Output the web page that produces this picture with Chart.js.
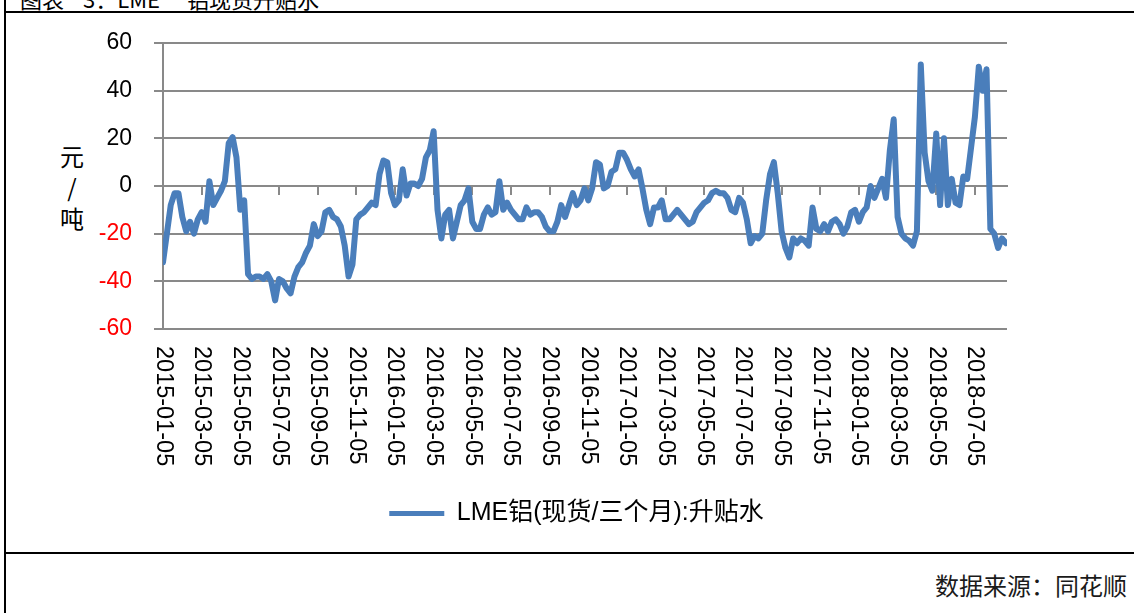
<!DOCTYPE html>
<html><head><meta charset="utf-8">
<script src="https://cdn.jsdelivr.net/npm/chart.js@4/dist/chart.umd.min.js"></script>
<style>
body{margin:0;background:#fff;width:1134px;height:613px;overflow:hidden;position:relative;font-family:"Liberation Sans","Noto Sans CJK SC",sans-serif;}
#wrap{position:absolute;left:0;top:0;width:1134px;height:551px;}
.line{position:absolute;background:#000;}
#title{position:absolute;left:20px;top:-13px;font-size:22px;line-height:22px;font-family:"Noto Sans CJK SC",sans-serif;white-space:nowrap;color:#000;}
#title span{position:absolute;top:0;white-space:nowrap;}
#ytitle{position:absolute;left:52px;width:40px;top:140px;text-align:center;font-size:24px;line-height:31px;font-family:"Noto Sans CJK SC",sans-serif;color:#000;}
#source{position:absolute;right:7px;top:572px;font-size:24px;line-height:26px;font-family:"Noto Sans CJK SC",sans-serif;color:#1a1a1a;white-space:nowrap;}
</style></head>
<body>
<div id="title"><span style="left:0">图表</span><span style="left:63px">3：LME</span><span style="left:167px">铝现货升贴水</span></div>
<div id="ytitle">元<br>/<br>吨</div>
<div id="source">数据来源：同花顺</div>
<div id="wrap"><canvas id="c" width="1134" height="551"></canvas></div>
<div class="line" style="left:4px;top:0;width:2px;height:613px"></div>
<div class="line" style="left:4px;top:11px;width:1130px;height:2px"></div>
<div class="line" style="left:4px;top:552px;width:1130px;height:2px"></div>
<script>
// Tick labels on the category (time) axis, one every two months
const xTickLabels = ['2015-01-05','2015-03-05','2015-05-05','2015-07-05','2015-09-05','2015-11-05',
  '2016-01-05','2016-03-05','2016-05-05','2016-07-05','2016-09-05','2016-11-05',
  '2017-01-05','2017-03-05','2017-05-05','2017-07-05','2017-09-05','2017-11-05',
  '2018-01-05','2018-03-05','2018-05-05','2018-07-05'];
// Series: LME aluminium cash/3M spread, sampled ten times per two-month label interval
const seriesName = 'LME铝(现货/三个月):升贴水';
const spread = [
  -32,-20,-8,-3,-3,-13,-19,-15,-20,-14,
  -11,-15,2,-8,-5,-2,2,18,20.5,12,
  -10,-6,-37,-39,-38,-38,-39,-37,-40,-48,
  -39,-40,-43,-45,-38,-34,-32,-28,-25,-16,
  -21,-19,-11,-10,-13,-14,-17,-25,-38,-33,
  -14,-12,-11,-9,-7,-8,5,10.7,10,-3,
  -8,-6,7,-4,1,1,0,3,12,15,
  23,-10,-22,-12,-10,-22,-15,-8,-6,-1,
  -15,-18,-18,-12,-9,-12,-11,2,-10,-7,
  -10,-12,-14,-14,-9,-12,-11,-11,-13,-17,
  -19,-19,-15,-8,-13,-8,-3,-8,-6,-1,
  -6,-1,10,9,-1,0,6,7,14,14,
  11,7,4,7,-1,-10,-16,-9,-9,-6,
  -14,-14,-12,-10,-12,-14,-16,-15,-11,-9,
  -7,-6,-3,-2,-3,-3,-5,-10,-11,-5,
  -7,-14,-24,-21,-22,-20,-6,5,10,-3,
  -19,-26,-30,-22,-24,-22,-23,-25,-9,-18,
  -19,-16,-19,-15,-14,-16,-20,-17,-11,-10,
  -15,-11,-9,0,-5,-1,3,-5,15,28,
  -13,-20,-22,-23,-25,-19,51,14,2,-2,
  22,-8,20,-8,3,-7,-8,4,3,16,
  29,50,40,49,-18,-20,-26,-22,-24
];
const SAMPLES_PER_LABEL = 10;
const X_MAX = 21.83;
const yTickValues = [-60,-40,-20,0,20,40,60];

const LINE_COLOR = '#4A7EBB';
const GRID_COLOR = '#898989';
const FONT = '"Liberation Sans", "Noto Sans CJK SC", sans-serif';
Chart.defaults.font.family = FONT;

const points = spread.map((v, i) => ({x: i / SAMPLES_PER_LABEL, y: v}));
const tickIdx = xTickLabels.map((_, i) => ({value: i}));

const xLabelPlugin = {
  id: 'xLabels',
  afterDraw(chart) {
    const xs = chart.scales.x, ctx = chart.ctx;
    const top = chart.chartArea.bottom + 17;
    ctx.save();
    ctx.font = '23.5px ' + FONT;
    ctx.fillStyle = '#000';
    ctx.textAlign = 'left';
    ctx.textBaseline = 'middle';
    xTickLabels.forEach((lab, i) => {
      const px = xs.getPixelForValue(i);
      ctx.save();
      ctx.translate(px, top);
      ctx.rotate(Math.PI / 2);
      ctx.fillText(lab, 0, 0);
      ctx.restore();
    });
    ctx.restore();
  }
};

new Chart(document.getElementById('c'), {
  type: 'line',
  data: {datasets: [{
    label: seriesName,
    data: points,
    borderColor: LINE_COLOR,
    backgroundColor: LINE_COLOR,
    borderWidth: 6,
    pointRadius: 0,
    tension: 0,
    borderJoinStyle: 'round',
    borderCapStyle: 'round',
    xAxisID: 'x',
    yAxisID: 'y'
  }]},
  options: {
    responsive: false,
    animation: false,
    layout: {padding: {left: 90, right: 71, top: 43, bottom: 15}},
    plugins: {
      tooltip: {enabled: false},
      legend: {
        position: 'bottom',
        labels: {
          boxWidth: 55, boxHeight: 5, padding: 10, color: '#000',
          font: {size: 25, family: FONT},
          generateLabels(chart) {
            const items = Chart.defaults.plugins.legend.labels.generateLabels(chart);
            items.forEach(it => { it.lineWidth = 0; it.fillStyle = LINE_COLOR; it.strokeStyle = LINE_COLOR; });
            return items;
          }
        }
      }
    },
    scales: {
      x: {
        type: 'linear', position: 'bottom', min: 0, max: X_MAX,
        ticks: {display: false},
        grid: {display: false},
        border: {display: false},
        afterFit(s) { s.height = 162; }
      },
      x2: {
        type: 'linear', axis: 'x', position: {y: 0}, min: 0, max: X_MAX,
        afterBuildTicks(s) { s.ticks = tickIdx.map(t => ({value: t.value})); },
        ticks: {display: false},
        grid: {display: true, drawOnChartArea: false, drawTicks: true, tickLength: 8, color: GRID_COLOR, lineWidth: 2},
        border: {display: true, color: GRID_COLOR, width: 2}
      },
      y: {
        min: -60, max: 60,
        afterBuildTicks(s) { s.ticks = yTickValues.map(v => ({value: v})); },
        ticks: {
          padding: 22,
          font: {size: 23, family: FONT},
          color: ctx => ctx.tick.value < 0 ? '#FF0000' : '#000000'
        },
        grid: {color: GRID_COLOR, lineWidth: 2, drawTicks: true, tickLength: 9},
        border: {display: true, color: GRID_COLOR, width: 2},
        afterFit(s) { s.width = 73; }
      },
      yRight: {
        type: 'linear', position: 'right', display: true, min: -60, max: 60,
        ticks: {display: false},
        grid: {display: false},
        border: {display: false},
        afterFit(s) { s.width = 56; }
      }
    }
  },
  plugins: [xLabelPlugin]
});
</script>
</body></html>
